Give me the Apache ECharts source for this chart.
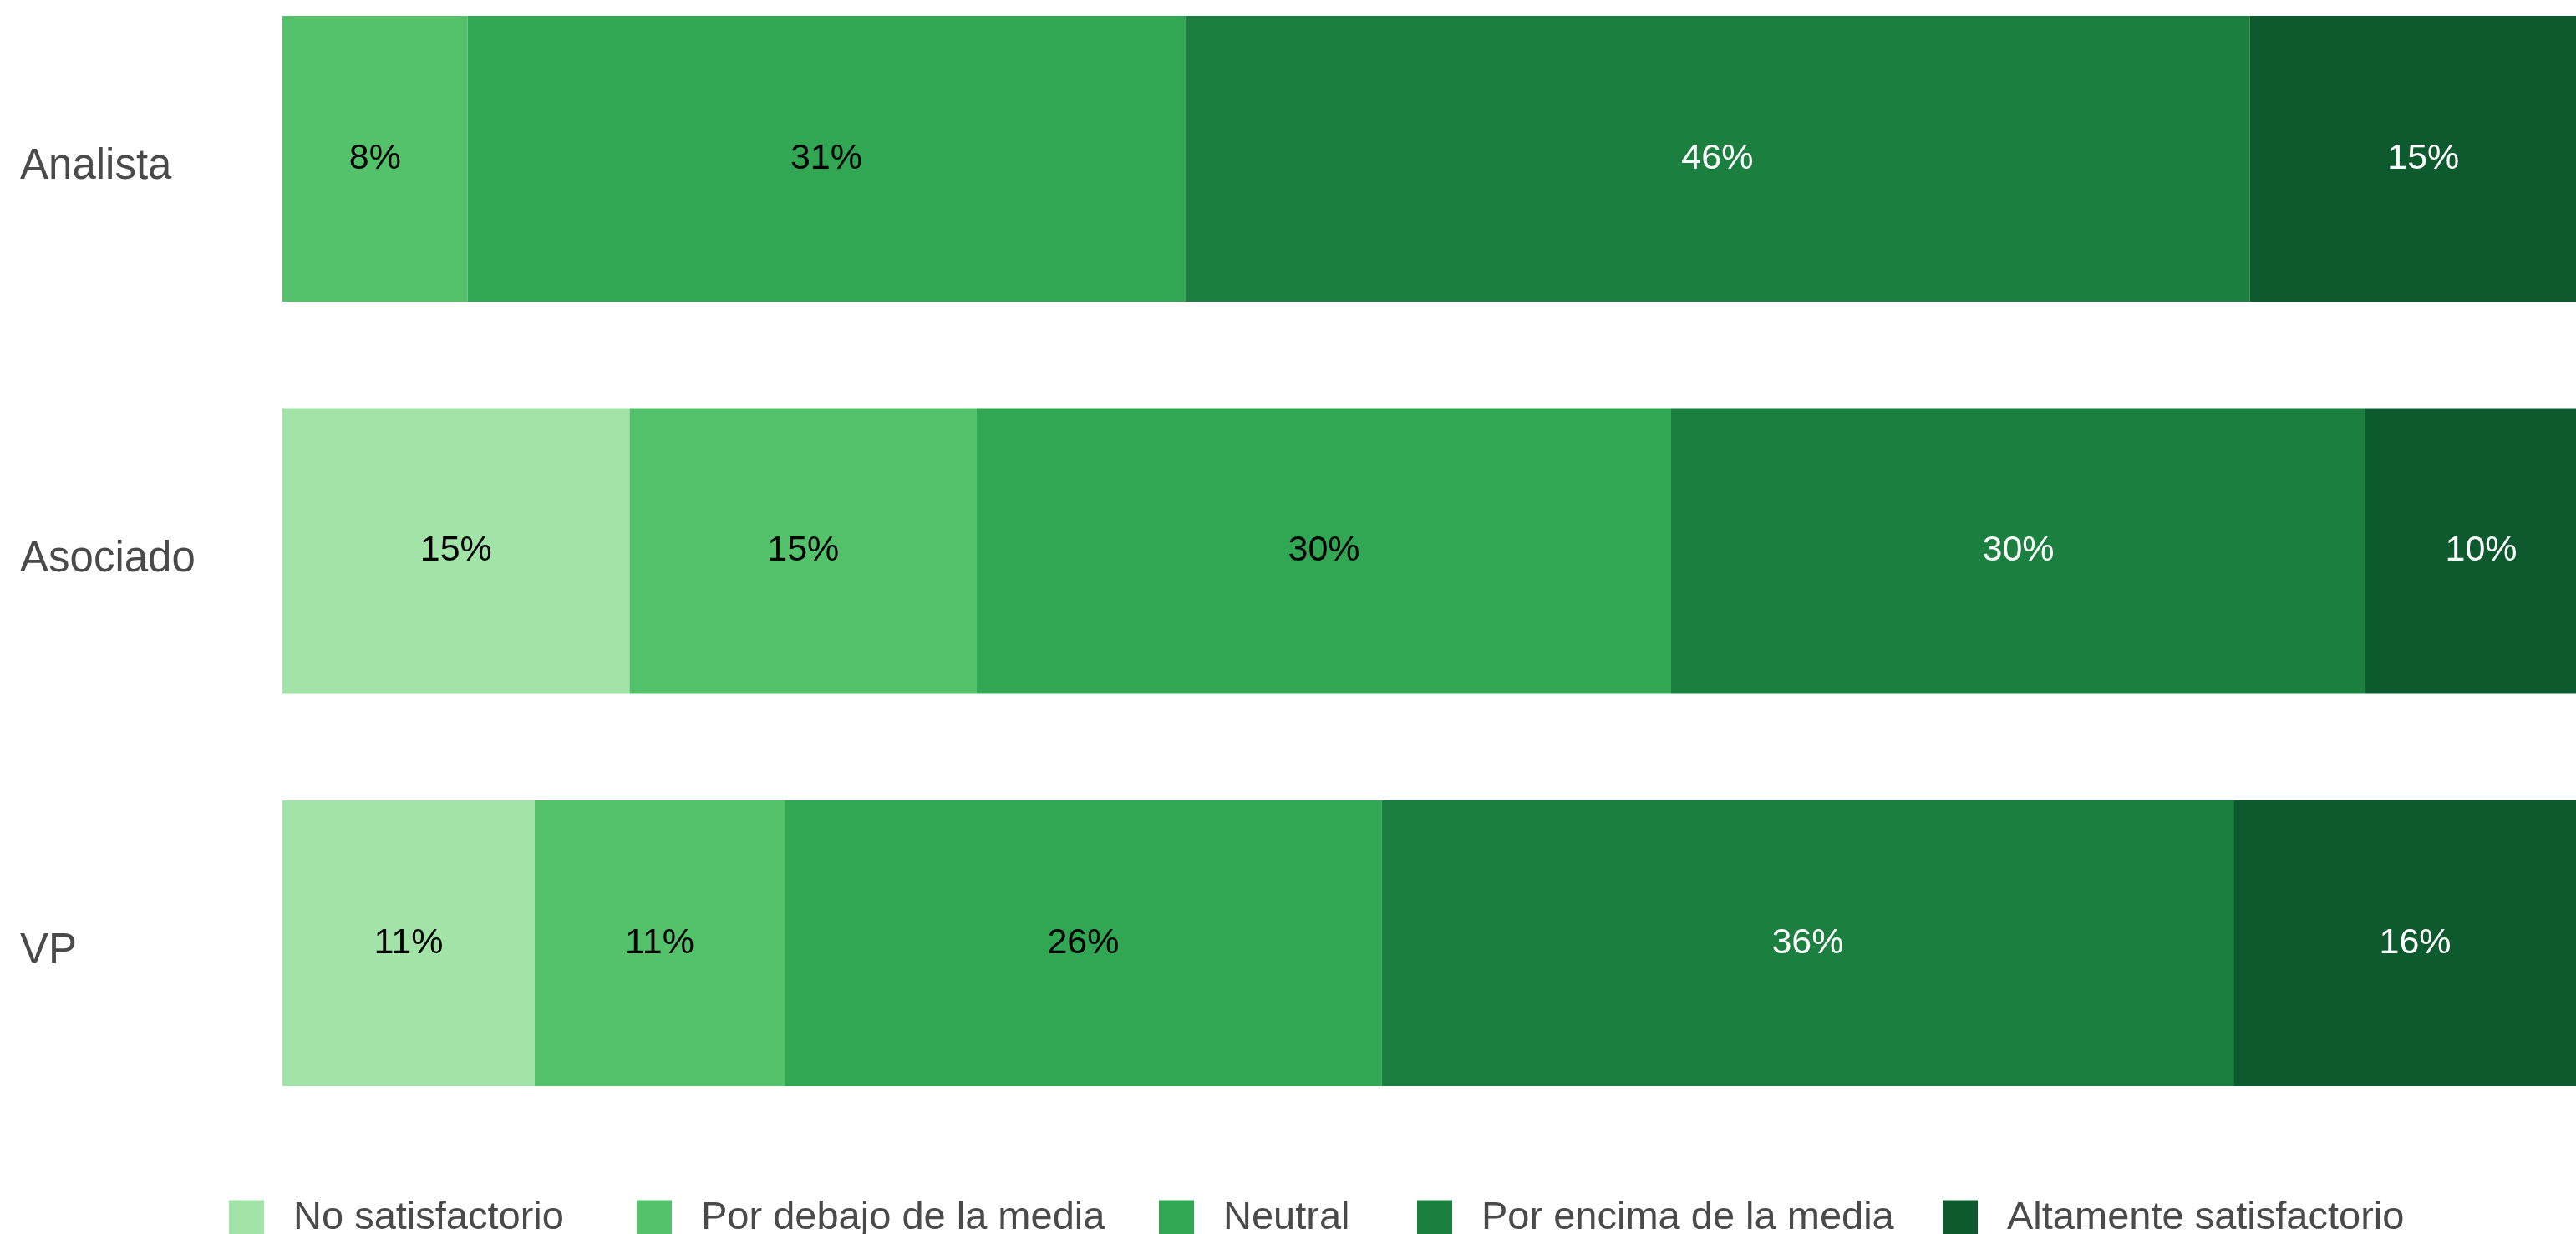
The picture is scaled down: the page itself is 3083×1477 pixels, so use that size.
<!DOCTYPE html>
<html><head><meta charset="utf-8">
<script src="https://cdn.jsdelivr.net/npm/echarts@6/dist/echarts.min.js"></script>
<style>html,body{margin:0;padding:0;background:#fff;overflow:hidden}#c{width:3083px;height:1477px}</style>
</head><body><div id="c"></div>
<script>
// Categories (top to bottom)
const categories = ['Analista', 'Asociado', 'VP'];
// Series names (legend order)
const seriesNames = ['No satisfactorio', 'Por debajo de la media', 'Neutral', 'Por encima de la media', 'Altamente satisfactorio'];
// Segment widths (share of respondents, %)
const noSatisfactorio = [0, 15, 10.9];
const porDebajo = [8, 15, 10.8];
const neutral = [31, 30, 25.8];
const porEncima = [46, 30, 36.8];
const altamente = [15, 10, 15.7];
// Percentages printed on the segments
const noSatisfactorioLabels = [0, 15, 11];
const porDebajoLabels = [8, 15, 11];
const neutralLabels = [31, 30, 26];
const porEncimaLabels = [46, 30, 36];
const altamenteLabels = [15, 10, 16];

const colors = ['#a2e3a7', '#54c26b', '#31a653', '#1b7f3f', '#0e5a2f'];
const labelColors = ['#000000', '#000000', '#000000', '#ffffff', '#ffffff'];
const legendLefts = [269, 757, 1382, 1691, 2320];
const values = [noSatisfactorio, porDebajo, neutral, porEncima, altamente];
const labels = [noSatisfactorioLabels, porDebajoLabels, neutralLabels, porEncimaLabels, altamenteLabels];
const FONT = '"Liberation Sans", Arial, sans-serif';

const chart = echarts.init(document.getElementById('c'), null, {renderer: 'canvas'});
chart.setOption({
  animation: false,
  backgroundColor: '#ffffff',
  grid: {left: 338, right: -25, top: -44.75, height: 1408.5, containLabel: false, outerBoundsMode: 'none'},
  xAxis: {type: 'value', min: 0, max: 100, show: false},
  yAxis: {
    type: 'category', data: categories, inverse: true,
    axisLine: {show: false}, axisTick: {show: false}, splitLine: {show: false},
    axisLabel: {
      align: 'left', margin: 314,
      formatter: v => '{c|' + v + '}',
      rich: {c: {fontSize: 51, color: '#4a4a4a', fontFamily: FONT, padding: [20, 0, 0, 0]}}
    }
  },
  legend: seriesNames.map((name, i) => ({
    data: [name], left: legendLefts[i], top: 1430, itemWidth: 42, itemHeight: 44,
    icon: 'rect', selectedMode: false,
    textStyle: {fontSize: 47, color: '#4a4a4a', fontFamily: FONT, padding: [0, 0, 0, 30]}
  })),
  series: seriesNames.map((name, i) => ({
    name: name, type: 'bar', stack: 'total', barWidth: 342,
    itemStyle: {color: colors[i]},
    emphasis: {disabled: true},
    label: {
      show: true, position: 'inside', fontSize: 43, fontFamily: FONT, color: labelColors[i],
      formatter: p => labels[i][p.dataIndex] ? labels[i][p.dataIndex] + '%' : ''
    },
    data: values[i]
  }))
});
</script></body></html>
